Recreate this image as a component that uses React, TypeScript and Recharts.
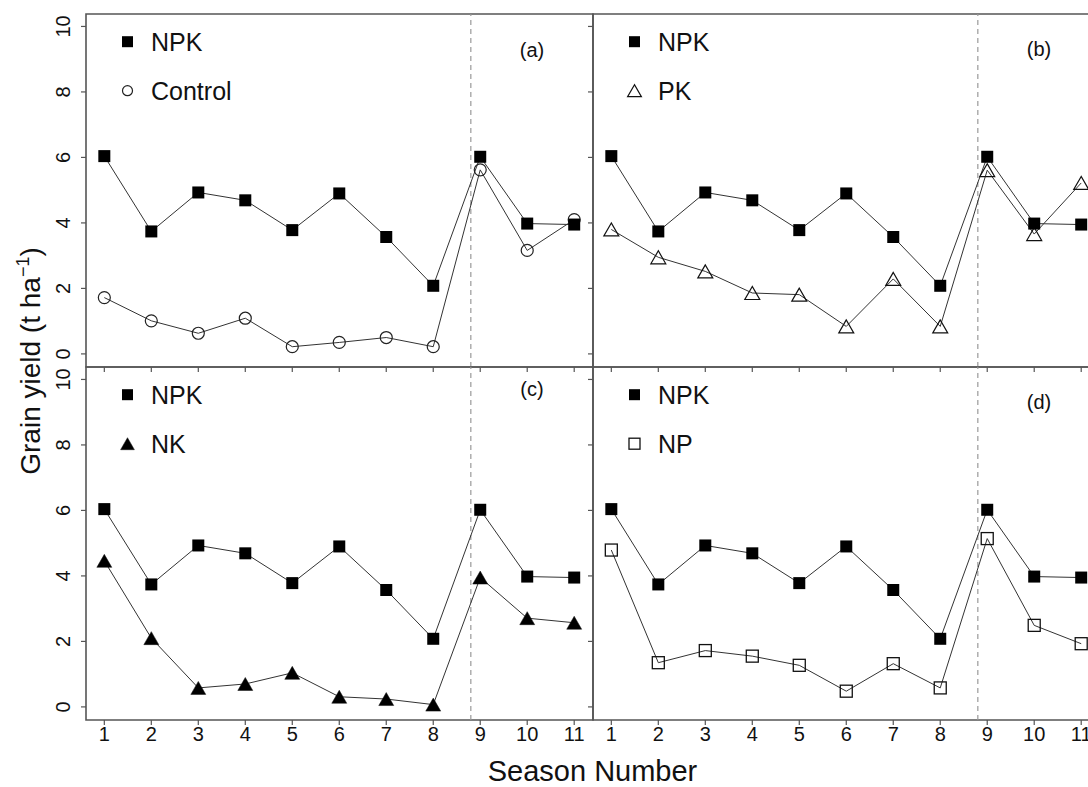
import { Line, LineChart, ReferenceArea, ReferenceLine, XAxis, YAxis } from "recharts";

// season numbers on the x axis
const SEASONS = [1, 2, 3, 4, 5, 6, 7, 8, 9, 10, 11];
const Y_TICKS = [0, 2, 4, 6, 8, 10];

// grain yield, t/ha
const NPK = [6.04, 3.74, 4.93, 4.69, 3.78, 4.9, 3.57, 2.08, 6.02, 3.98, 3.95];
const CONTROL = [1.72, 1.01, 0.63, 1.09, 0.22, 0.35, 0.5, 0.22, 5.62, 3.16, 4.1];
const PK = [3.8, 2.95, 2.52, 1.86, 1.81, 0.84, 2.29, 0.84, 5.61, 3.66, 5.22];
const NK = [4.46, 2.1, 0.58, 0.7, 1.04, 0.31, 0.24, 0.07, 3.95, 2.71, 2.57];
const NP = [4.79, 1.35, 1.72, 1.55, 1.27, 0.48, 1.32, 0.58, 5.14, 2.49, 1.93];

const BREAK_SEASON = 8.8;

const FONT = '"Liberation Sans", Arial, Helvetica, sans-serif';
const FRAME = "#555";
const LINE = "#333";

// plot area geometry
const PLOT_X = [86, 593];
const PLOT_Y = [14, 367];
const PLOT_W = 507;
const PLOT_H = 353;
const X_DOMAIN: [number, number] = [0.61, 11.4];
const Y_DOMAIN: [number, number] = [-0.4, 10.38];

type Marker = "square" | "openSquare" | "openCircle" | "openTriangle" | "triangle";

const drawMarker = (kind: Marker, cx: number, cy: number, size: number, key?: string) => {
  const h = size / 2;
  if (kind === "square" || kind === "openSquare") {
    const filled = kind === "square";
    return (
      <rect
        key={key}
        x={cx - h}
        y={cy - h}
        width={size}
        height={size}
        fill={filled ? "#000" : "none"}
        stroke="#111"
        strokeWidth={filled ? 0 : 1.3}
      />
    );
  }
  if (kind === "openCircle") {
    return <circle key={key} cx={cx} cy={cy} r={h} fill="none" stroke="#222" strokeWidth={1.2} />;
  }
  const side = size * 1.15;
  const pts = `${cx},${cy - h} ${cx - side / 2},${cy + h} ${cx + side / 2},${cy + h}`;
  const filled = kind === "triangle";
  return (
    <polygon
      key={key}
      points={pts}
      fill={filled ? "#000" : "none"}
      stroke="#111"
      strokeWidth={filled ? 0.5 : 1.2}
      strokeLinejoin="miter"
    />
  );
};

type Panel = {
  tag: string;
  name: string;
  values: number[];
  marker: Marker;
  col: number;
  row: number;
  tagDy: number;
};

const PANELS: Panel[] = [
  { tag: "(a)", name: "Control", values: CONTROL, marker: "openCircle", col: 0, row: 0, tagDy: 43 },
  { tag: "(b)", name: "PK", values: PK, marker: "openTriangle", col: 1, row: 0, tagDy: 42 },
  { tag: "(c)", name: "NK", values: NK, marker: "triangle", col: 0, row: 1, tagDy: 29 },
  { tag: "(d)", name: "NP", values: NP, marker: "openSquare", col: 1, row: 1, tagDy: 42 },
];

const markerSize = (kind: Marker) => (kind === "openCircle" ? 12 : kind.includes("riangle") ? 13 : 12);

function PanelChart({ panel }: { panel: Panel }) {
  const rows = SEASONS.map((s, i) => ({ season: s, npk: NPK[i], other: panel.values[i] }));
  const showX = panel.row === 1;
  const showY = panel.col === 0;

  const xTick = (p: any) =>
    showX ? (
      <text x={p.x} y={p.y} dy="0.71em" textAnchor="middle" fontSize={20} fontFamily={FONT} fill="#111">
        {p.payload.value}
      </text>
    ) : (
      <g />
    );

  const yTick = (p: any) => {
    if (!showY) return <g />;
    const bx = p.x - 9;
    return (
      <text
        x={bx}
        y={p.y}
        transform={`rotate(-90 ${bx} ${p.y})`}
        textAnchor="middle"
        fontSize={20}
        fontFamily={FONT}
        fill="#111"
      >
        {p.payload.value}
      </text>
    );
  };

  return (
    <div
      style={{
        position: "absolute",
        left: PLOT_X[panel.col] - 60,
        top: PLOT_Y[panel.row] - 10,
      }}
    >
      <LineChart
        width={PLOT_W + 70}
        height={PLOT_H + 50}
        data={rows}
        margin={{ top: 10, right: 10, bottom: 0, left: 0 }}
      >
        <XAxis
          dataKey="season"
          type="number"
          domain={X_DOMAIN}
          ticks={SEASONS}
          interval={0}
          allowDataOverflow
          axisLine={false}
          tickLine={{ stroke: FRAME, strokeWidth: 1.2 }}
          tickSize={5}
          height={40}
          tick={xTick}
        />
        <YAxis
          type="number"
          domain={Y_DOMAIN}
          ticks={Y_TICKS}
          interval={0}
          allowDataOverflow
          axisLine={false}
          tickLine={{ stroke: FRAME, strokeWidth: 1.2 }}
          tickSize={5}
          width={60}
          tick={yTick}
        />
        <ReferenceArea
          x1={X_DOMAIN[0]}
          x2={X_DOMAIN[1]}
          y1={Y_DOMAIN[0]}
          y2={Y_DOMAIN[1]}
          fill="none"
          fillOpacity={0}
          stroke={FRAME}
          strokeWidth={1.6}
          ifOverflow="visible"
        />
        <ReferenceLine x={BREAK_SEASON} stroke="#999" strokeDasharray="5 4" strokeWidth={1.2} />
        <Line
          dataKey="other"
          stroke={LINE}
          strokeWidth={1}
          isAnimationActive={false}
          activeDot={false}
          dot={(p: any) => drawMarker(panel.marker, p.cx, p.cy, markerSize(panel.marker), `o-${p.index}`)}
        />
        <Line
          dataKey="npk"
          stroke={LINE}
          strokeWidth={1}
          isAnimationActive={false}
          activeDot={false}
          dot={(p: any) => drawMarker("square", p.cx, p.cy, 12, `n-${p.index}`)}
        />
      </LineChart>
    </div>
  );
}

function Overlay() {
  return (
    <svg
      width={1088}
      height={787}
      style={{ position: "absolute", left: 0, top: 0, pointerEvents: "none" }}
      fontFamily={FONT}
    >
      {PANELS.map((p) => {
        const px = PLOT_X[p.col];
        const py = PLOT_Y[p.row];
        const legendSize = p.marker === "openCircle" ? 10 : p.marker.includes("riangle") ? 12 : 11;
        return (
          <g key={p.tag}>
            {drawMarker("square", px + 41.5, py + 27.7, 11)}
            <text x={px + 65} y={py + 36.7} fontSize={25} fill="#111">
              NPK
            </text>
            {drawMarker(p.marker, px + 41.5, py + 76.7, legendSize)}
            <text x={px + 65} y={py + 86} fontSize={25} fill="#111">
              {p.name}
            </text>
            <text x={px + 446} y={py + p.tagDy} fontSize={20} textAnchor="middle" fill="#111">
              {p.tag}
            </text>
          </g>
        );
      })}
      <text
        x={40}
        y={361}
        transform="rotate(-90 40 361)"
        textAnchor="middle"
        fontSize={28}
        fill="#111"
      >
        Grain yield (t ha
        <tspan dy={-11} fontSize={18}>
          −1
        </tspan>
        <tspan dy={11} fontSize={28}>
          )
        </tspan>
      </text>
      <text x={592.5} y={781} textAnchor="middle" fontSize={29} fill="#111">
        Season Number
      </text>
    </svg>
  );
}

export default function App() {
  return (
    <div
      style={{
        position: "absolute",
        left: 0,
        top: 0,
        width: 1088,
        height: 787,
        overflow: "hidden",
        background: "#fff",
      }}
    >
      {PANELS.map((p) => (
        <PanelChart key={p.tag} panel={p} />
      ))}
      <Overlay />
    </div>
  );
}
